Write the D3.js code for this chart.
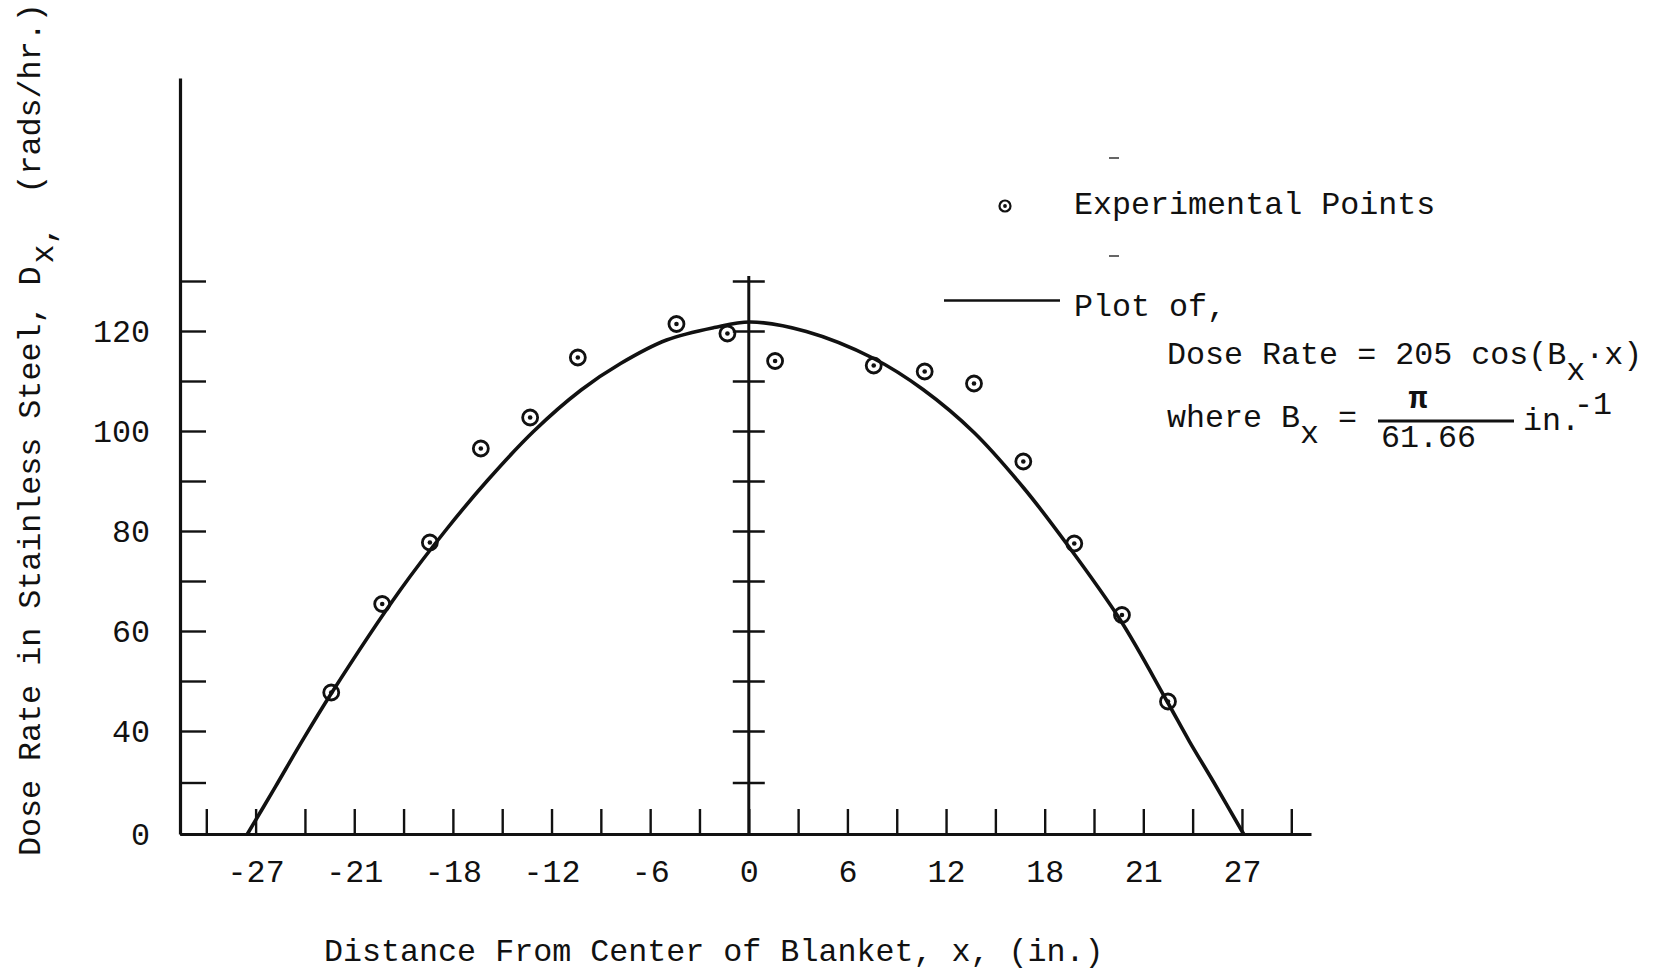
<!DOCTYPE html>
<html>
<head>
<meta charset="utf-8">
<script src="https://cdn.jsdelivr.net/npm/d3@7"></script>
<style>
  html, body { margin: 0; padding: 0; background: #fff; }
  svg { display: block; background: #fff; }
  text { font-family: "Liberation Mono", "DejaVu Sans Mono", monospace; fill: #111; }
</style>
</head>
<body>
<svg id="chart" width="1653" height="972"></svg>
<script>
// Experimental dose-rate readings along the blanket (x in inches, dose in rads/hr)
const pointX = [-25.4, -22.3, -19.4, -16.3, -13.3, -10.4, -4.4, -1.3, 1.6, 7.6, 10.7, 13.7, 16.7, 19.8, 22.7, 25.5];
const pointY = [47.7, 65.4, 77.7, 96.5, 102.7, 114.7, 121.4, 119.5, 114.0, 113.1, 111.9, 109.5, 93.9, 77.5, 63.2, 45.9];

// Fitted cosine curve as traced on the sheet
const curveX = [-30.5, -28.8, -27.3, -25.4, -21.2, -18.35, -15.9, -13.1, -10.2, -7.8, -5.0, -2.1, 0.1, 3.5, 7.6, 10.6, 13.7, 16.7, 19.3, 22.6, 25.4, 26.8, 28.3, 30.1];
const curveY = [0, 18.3, 34.7, 47.5, 68.2, 80.5, 90.1, 99.9, 108.2, 113.5, 118.2, 120.7, 121.8, 119.9, 114.5, 108.3, 99.7, 88.7, 77.6, 62.2, 46.2, 36.0, 19.9, 0];

// Axis ticks and the labels typed under / beside them
const xTickValues = d3.range(-33, 34, 3);
const xLabelValues = [-30, -24, -18, -12, -6, 0, 6, 12, 18, 24, 30];
const xLabels = ["-27", "-21", "-18", "-12", "-6", "0", "6", "12", "18", "21", "27"];
const yTickValues = [0, 20, 40, 50, 60, 70, 80, 90, 100, 110, 120, 130];
const yLabelValues = [0, 40, 60, 80, 100, 120];
const yLabels = ["0", "40", "60", "80", "100", "120"];
const centreTickValues = [20, 40, 50, 60, 70, 80, 90, 100, 110, 120, 130];

const FONT = 31.7;
const svg = d3.select("#chart");

// Horizontal scale in inches; vertical scale has a broken segment below 40
const x = d3.scaleLinear().domain([-34.6, 34.2]).range([180, 1311]);
const y = d3.scaleLinear().domain([0, 40, 170.6]).range([834, 731, 78]);

function styleAxis(g, domainWidth, tickWidth) {
  g.attr("font-size", null).attr("font-family", null);
  g.select(".domain").attr("stroke", "#111").attr("stroke-width", domainWidth);
  g.selectAll(".tick line").attr("stroke", "#111").attr("stroke-width", tickWidth);
  g.selectAll(".tick text").style("font-size", FONT + "px").attr("fill", "#111");
}

// Left value axis, ticks pointing into the plot
const yLab = new Map(yLabelValues.map((v, i) => [v, yLabels[i]]));
svg.append("g")
  .attr("transform", `translate(${x.range()[0]},0)`)
  .call(d3.axisLeft(y).tickValues(yTickValues).tickSizeInner(-26).tickSizeOuter(0)
    .tickPadding(30).tickFormat(v => yLab.get(v) || ""))
  .call(g => styleAxis(g, 3.2, 2.4));

// Bottom distance axis
const xLab = new Map(xLabelValues.map((v, i) => [v, xLabels[i]]));
svg.append("g")
  .attr("transform", `translate(0,${y(0)})`)
  .call(d3.axisBottom(x).tickValues(xTickValues).tickSizeInner(-25).tickSizeOuter(0)
    .tickPadding(25).tickFormat(v => xLab.get(v) || ""))
  .call(g => styleAxis(g, 3.2, 2.4));

// Centre line at x = 0 with cross ticks
const centre = svg.append("g").attr("transform", `translate(${x(0)},0)`);
centre.call(d3.axisRight(y).tickValues(centreTickValues).tickSizeInner(16).tickSizeOuter(0).tickFormat(""))
  .call(g => g.select(".domain").remove())
  .call(g => g.selectAll(".tick line").attr("x1", -16).attr("stroke", "#111").attr("stroke-width", 2.4));
centre.append("line")
  .attr("x1", 0).attr("x2", 0)
  .attr("y1", y(0)).attr("y2", y(131))
  .attr("stroke", "#111").attr("stroke-width", 3);

// Fitted curve
const curveData = curveX.map((v, i) => [v, curveY[i]]);
svg.append("path")
  .datum(curveData)
  .attr("fill", "none")
  .attr("stroke", "#111")
  .attr("stroke-width", 3.6)
  .attr("stroke-linejoin", "round")
  .attr("d", d3.line().x(d => x(d[0])).y(d => y(d[1])).curve(d3.curveCatmullRom.alpha(0.5)));

// Experimental points: open circle with a centre dot
const pts = svg.append("g").selectAll("g")
  .data(pointX.map((v, i) => [v, pointY[i]]))
  .join("g")
  .attr("transform", d => `translate(${x(d[0])},${y(d[1])})`);
pts.append("circle").attr("r", 7.5).attr("fill", "none").attr("stroke", "#111").attr("stroke-width", 2.8);
pts.append("circle").attr("r", 2.3).attr("fill", "#111");

// Legend and formula block
const leg = svg.append("g");
leg.append("circle").attr("cx", 1005).attr("cy", 206).attr("r", 5.5)
  .attr("fill", "none").attr("stroke", "#111").attr("stroke-width", 2.2);
leg.append("circle").attr("cx", 1005).attr("cy", 206).attr("r", 1.9).attr("fill", "#111");
leg.append("text").attr("x", 1074).attr("y", 214).style("font-size", FONT + "px").text("Experimental Points");
leg.append("line").attr("x1", 1109).attr("x2", 1119).attr("y1", 158).attr("y2", 158)
  .attr("stroke", "#333").attr("stroke-width", 1.5);
leg.append("line").attr("x1", 1109).attr("x2", 1119).attr("y1", 256).attr("y2", 256)
  .attr("stroke", "#333").attr("stroke-width", 1.5);
leg.append("line").attr("x1", 944).attr("x2", 1060).attr("y1", 300.5).attr("y2", 300.5)
  .attr("stroke", "#111").attr("stroke-width", 2.6);
leg.append("text").attr("x", 1074).attr("y", 316).style("font-size", FONT + "px").text("Plot of,");

const f1 = leg.append("text").attr("x", 1167).attr("y", 364).style("font-size", FONT + "px");
f1.append("tspan").text("Dose Rate = 205 cos(B");
f1.append("tspan").attr("dy", 16).text("x");
f1.append("tspan").attr("dy", -16).text("\u00b7x)");

leg.append("text").attr("x", 1167).attr("y", 427).style("font-size", FONT + "px").text("where B");
leg.append("text").attr("x", 1300).attr("y", 443).style("font-size", FONT + "px").text("x");
leg.append("text").attr("x", 1338).attr("y", 427).style("font-size", FONT + "px").text("=");
leg.append("line").attr("x1", 1378).attr("x2", 1514).attr("y1", 421).attr("y2", 421)
  .attr("stroke", "#111").attr("stroke-width", 3);
leg.append("text").attr("x", 1418).attr("y", 408).attr("text-anchor", "middle")
  .style("font-size", FONT + "px").style("font-weight", "bold").text("\u03c0");
leg.append("text").attr("x", 1381).attr("y", 447).style("font-size", FONT + "px").text("61.66");
leg.append("text").attr("x", 1523).attr("y", 430).style("font-size", FONT + "px").text("in.");
leg.append("text").attr("x", 1574).attr("y", 414).style("font-size", FONT + "px").text("-1");

// Axis titles
svg.append("text").attr("x", 324).attr("y", 961).style("font-size", FONT + "px")
  .text("Distance From Center of Blanket, x, (in.)");

const yt = svg.append("text")
  .attr("transform", "translate(40,856) rotate(-90)")
  .style("font-size", FONT + "px");
yt.append("tspan").text("Dose Rate in Stainless Steel, D");
yt.append("tspan").attr("dx", 3).attr("dy", 13).text("x");
yt.append("tspan").text(",");
yt.append("tspan").attr("dx", 13).attr("dy", -13).text(" (rads/hr.)");
</script>
</body>
</html>
